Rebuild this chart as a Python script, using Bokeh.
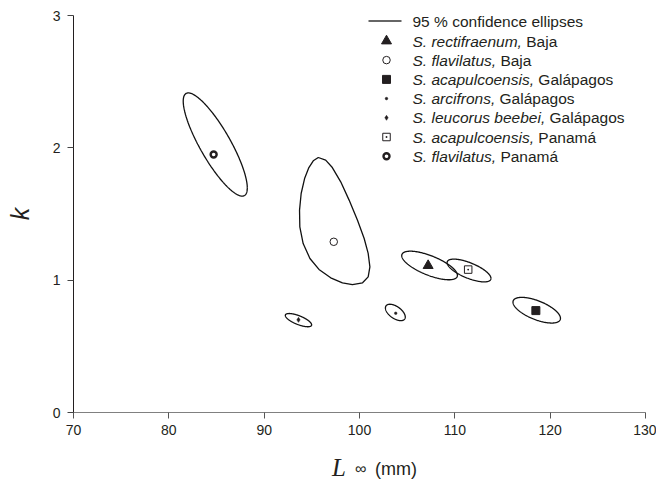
import glob
import numpy as np
from bokeh.plotting import figure
from bokeh.models import Label, Div
from bokeh.layouts import column
from bokeh.embed import file_html
from bokeh.resources import INLINE

# ---------------- data ----------------
# group means (L-infinity in mm, k)
mean_L = [84.7, 97.3, 107.2, 111.4, 118.5, 93.6, 103.8]
mean_k = [1.95, 1.29, 1.11, 1.08, 0.77, 0.70, 0.75]
groups = ["S. flavilatus, Panamá", "S. flavilatus, Baja", "S. rectifraenum, Baja",
          "S. acapulcoensis, Panamá", "S. acapulcoensis, Galápagos",
          "S. leucorus beebei, Galápagos", "S. arcifrons, Galápagos"]

# 95 % confidence ellipses: centre, half-range in L, half-range in k, L-k correlation
ell_groups = ["S. flavilatus, Panamá", "S. rectifraenum, Baja", "S. acapulcoensis, Panamá",
              "S. acapulcoensis, Galápagos", "S. leucorus beebei, Galápagos", "S. arcifrons, Galápagos"]
ell_cL = [84.87, 107.35, 111.49, 118.59, 93.60, 103.76]
ell_ck = [2.025, 1.111, 1.073, 0.773, 0.698, 0.756]
ell_hL = [3.36, 2.92, 2.30, 2.49, 1.38, 1.04]
ell_hk = [0.390, 0.108, 0.086, 0.097, 0.050, 0.062]
ell_r = [-0.84, -0.69, -0.69, -0.63, -0.71, -0.55]

# S. flavilatus, Baja: non-elliptical confidence region (outline vertices)
baja_L = [95.68, 96.45, 97.15, 98.03, 98.91, 99.79, 100.49, 100.91, 101.09, 100.91, 100.32,
          99.26, 98.21, 96.98, 95.75, 94.80, 94.09, 93.74, 93.71, 93.88, 94.24, 94.69, 95.15]
baja_k = [1.927, 1.907, 1.851, 1.743, 1.605, 1.453, 1.315, 1.202, 1.101, 1.025, 0.980,
          0.967, 0.980, 1.018, 1.081, 1.164, 1.277, 1.403, 1.529, 1.655, 1.768, 1.851, 1.902]

x_ticks = [70, 80, 90, 100, 110, 120, 130]
y_ticks = [0, 1, 2, 3]

legend_species = ["S. rectifraenum,", "S. flavilatus,", "S. acapulcoensis,", "S. arcifrons,",
                  "S. leucorus beebei,", "S. acapulcoensis,", "S. flavilatus,"]
legend_places = ["Baja", "Baja", "Galápagos", "Galápagos", "Galápagos", "Panamá", "Panamá"]

# ---------------- styles ----------------
INK = "#231f20"
FONT = "Liberation Sans"
W, H = 656, 452          # main figure
H2 = 30                  # strip below for the x-axis title
ML, MR, MT, MB = 73, 11, 15, 40
X0, X1, Y0, Y1 = 70, 130, 0, 3
FW, FH = W - ML - MR, H - MT - MB

def px_x(px):
    return X0 + (px - ML) * (X1 - X0) / FW

def px_y(py):
    return Y1 - (py - MT) * (Y1 - Y0) / FH

def text_width(s, italic, size):
    try:
        from PIL import ImageFont
        name = "LiberationSans-Italic.ttf" if italic else "LiberationSans-Regular.ttf"
        f = glob.glob("/usr/share/fonts/**/" + name, recursive=True)
        font = ImageFont.truetype(f[0], size)
        return font.getlength(s)
    except Exception:
        return len(s) * size * 0.52

p = figure(width=W, height=H, x_range=(X0, X1), y_range=(Y0, Y1),
           output_backend="svg", toolbar_location=None,
           min_border_left=ML, min_border_right=MR, min_border_top=MT, min_border_bottom=MB)
p.grid.visible = False
p.outline_line_color = None
p.background_fill_color = "white"
p.border_fill_color = "white"

for ax in (p.xaxis[0], p.yaxis[0]):
    ax.major_tick_in = 0
    ax.major_tick_out = 6
    ax.minor_tick_line_color = None
    ax.major_label_text_font = FONT
    ax.major_label_text_font_size = "14px"
    ax.major_label_text_color = INK
    ax.major_tick_line_color = "#444444"

p.xaxis.ticker = x_ticks
p.yaxis.ticker = y_ticks
p.xaxis.axis_line_color = "#808080"
p.xaxis.major_tick_line_color = "#555555"
p.yaxis.axis_line_color = INK
p.xaxis.major_label_standoff = 6
p.yaxis.major_label_standoff = 7

p.yaxis.axis_label = "k"
p.yaxis.axis_label_text_font = FONT
p.yaxis.axis_label_text_font_style = "italic"
p.yaxis.axis_label_text_font_size = "25px"
p.yaxis.axis_label_text_color = INK
p.yaxis.axis_label_standoff = 16

# ellipses
t = np.linspace(0, 2 * np.pi, 240)
xs, ys = [], []
for cL, ck, hL, hk, r in zip(ell_cL, ell_ck, ell_hL, ell_hk, ell_r):
    d = np.arccos(r)
    xs.append(list(cL + hL * np.cos(t)))
    ys.append(list(ck + hk * np.cos(t + d)))
xs.append(baja_L + baja_L[:1])
ys.append(baja_k + baja_k[:1])
p.multi_line(xs, ys, line_color="#111111", line_width=1.3)

# means
def draw_marker(i, x, y):
    if i == 0:   # flavilatus Panama: thick ring
        p.scatter(x, y, marker="circle", size=6, fill_color="white", line_color=INK, line_width=2.4)
    elif i == 1:  # flavilatus Baja: open circle
        p.scatter(x, y, marker="circle", size=7.5, fill_color="white", line_color=INK, line_width=1)
    elif i == 2:  # rectifraenum Baja
        p.scatter(x, y, marker="triangle", size=10, fill_color=INK, line_color=INK, line_width=1)
    elif i == 3:  # acapulcoensis Panama
        p.scatter(x, y, marker="square_dot", size=7.5, fill_color="white", line_color=INK, line_width=1)
    elif i == 4:  # acapulcoensis Galapagos
        p.scatter(x, y, marker="square", size=8, fill_color=INK, line_color=INK, line_width=1)
    elif i == 5:  # leucorus beebei
        p.scatter(x, y, marker="diamond", size=5, fill_color=INK, line_color=INK, line_width=0.5)
    else:        # arcifrons
        p.scatter(x, y, marker="circle", size=2.6, fill_color=INK, line_color=INK, line_width=0.5)

for i in range(len(mean_L)):
    draw_marker(i, [mean_L[i]], [mean_k[i]])

# legend (drawn by hand: mixed italic / roman text)
LEG_FS = 15.5
leg_rows_py = [20.5, 40.5, 59.6, 78.9, 98.1, 117.3, 136.5, 155.7]
mark_px, text_px = 386, 412
p.line([px_x(368), px_x(401)], [px_y(leg_rows_py[0])] * 2, line_color="#333333", line_width=1.3)
p.add_layout(Label(x=px_x(text_px), y=px_y(leg_rows_py[0]), text="95 % confidence ellipses",
                   text_font=FONT, text_font_size=f"{LEG_FS}px", text_color=INK,
                   text_baseline="middle", text_align="left"))
leg_style = [2, 1, 4, 6, 5, 3, 0]
for j, (sp, pl) in enumerate(zip(legend_species, legend_places)):
    py = leg_rows_py[j + 1]
    draw_marker(leg_style[j], [px_x(mark_px)], [px_y(py)])
    p.add_layout(Label(x=px_x(text_px), y=px_y(py), text=sp, text_font=FONT,
                       text_font_style="italic", text_font_size=f"{LEG_FS}px", text_color=INK,
                       text_baseline="middle", text_align="left"))
    wi = text_width(sp + " ", True, LEG_FS)
    p.add_layout(Label(x=px_x(text_px), y=px_y(py), x_offset=wi, text=pl, text_font=FONT,
                       text_font_size=f"{LEG_FS}px", text_color=INK,
                       text_baseline="middle", text_align="left"))

# x-axis title strip:  L ∞ (mm)  (mixed fonts, so written as HTML text)
title_html = (
    f'<div style="position:relative;width:{W}px;height:{H2}px;color:{INK};">'
    '<span style="position:absolute;left:332px;top:6px;height:20px;padding-right:3px;'
    'font-family:\'Liberation Serif\';font-style:italic;font-size:25px;line-height:20px;'
    'white-space:nowrap;">L</span>'
    '<span style="position:absolute;left:355px;top:9px;font-family:\'Liberation Sans\';'
    'font-size:16px;line-height:1;white-space:nowrap;">∞</span>'
    '<span style="position:absolute;left:375px;top:8px;font-family:\'Liberation Sans\';'
    'font-size:18px;line-height:1;white-space:nowrap;">(mm)</span>'
    '</div>'
)
title_div = Div(text=title_html, width=W, height=H2, margin=(0, 0, 0, 0))

layout = column(p, title_div, spacing=0)
open("out.html", "w").write(file_html(layout, INLINE))
